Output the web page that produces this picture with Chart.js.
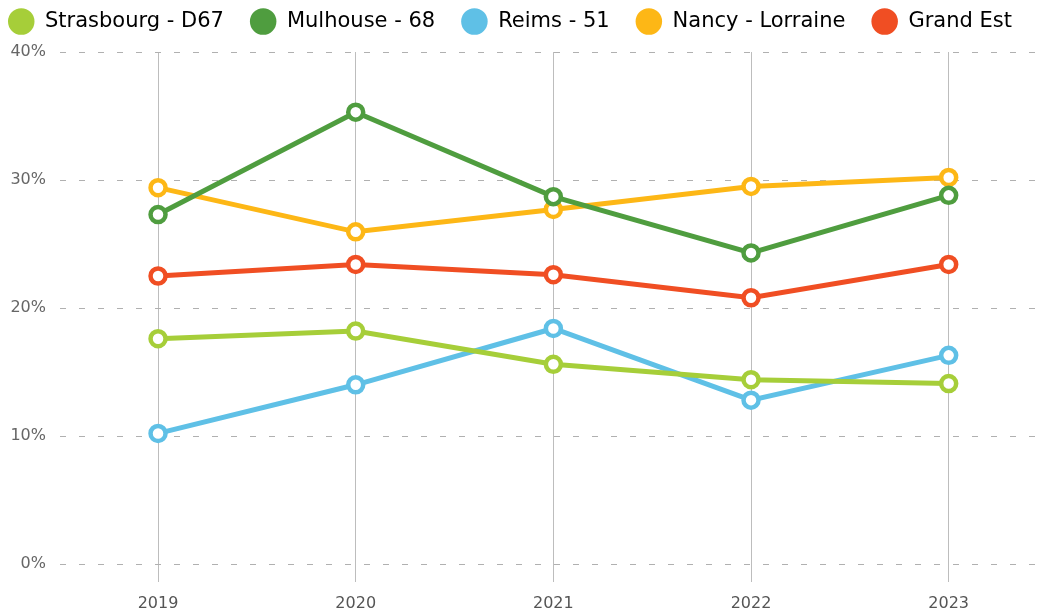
<!DOCTYPE html>
<html>
<head>
<meta charset="utf-8">
<script src="https://cdn.jsdelivr.net/npm/chart.js@4"></script>
<style>
  html, body { margin: 0; padding: 0; background: #fff; }
  #wrap { width: 1042px; height: 616px; position: relative; }
</style>
</head>
<body>
<div id="wrap"><canvas id="c"></canvas></div>
<script>
const categories = ['2019', '2020', '2021', '2022', '2023'];
const seriesNames = ['Strasbourg - D67', 'Mulhouse - 68', 'Reims - 51', 'Nancy - Lorraine', 'Grand Est'];
const strasbourg = [17.6, 18.2, 15.6, 14.4, 14.1];
const mulhouse = [27.3, 35.3, 28.7, 24.3, 28.8];
const reims = [10.2, 14.0, 18.4, 12.8, 16.3];
const nancy = [29.4, 25.95, 27.7, 29.5, 30.2];
const grandEst = [22.5, 23.4, 22.6, 20.8, 23.4];
const yTicks = [0, 10, 20, 30, 40];
const colors = ['#a6ce39', '#4f9d3f', '#5fc0e6', '#fdb716', '#f04e23'];

const allSeries = [strasbourg, mulhouse, reims, nancy, grandEst];
const FONT = '"DejaVu Sans", sans-serif';

const datasets = allSeries.map((vals, i) => ({
  label: seriesNames[i],
  data: vals.map((v, j) => ({ x: Number(categories[j]), y: v })),
  borderColor: colors[i],
  backgroundColor: colors[i],
  borderWidth: 5,
  pointRadius: 7.5,
  pointHoverRadius: 7.5,
  pointBorderWidth: 4.5,
  pointHoverBorderWidth: 4.5,
  pointBackgroundColor: '#ffffff',
  pointBorderColor: colors[i],
  tension: 0,
  clip: false
}));

const legendGap = {
  id: 'legendGap',
  beforeInit(chart) {
    const lg = chart.legend;
    if (lg) {
      const f = lg.fit;
      lg.fit = function () {
        this.maxWidth = 3000;
        f.apply(this, arguments);
        this.height = 67;
      };
      const d = lg.draw;
      lg.draw = function () {
        const r = this.right;
        this.right = 3000;
        d.apply(this, arguments);
        this.right = r;
      };
    }
  }
};

new Chart(document.getElementById('c'), {
  type: 'line',
  data: { datasets },
  plugins: [legendGap],
  options: {
    responsive: true,
    maintainAspectRatio: false,
    animation: false,
    events: [],
    layout: { autoPadding: false, padding: { top: -15, left: -18, right: 2, bottom: 0 } },
    plugins: {
      tooltip: { enabled: false },
      legend: {
        position: 'top',
        align: 'start',
        labels: {
          usePointStyle: true,
          pointStyle: 'circle',
          boxHeight: 18.8,
          pointStyleWidth: 26.5,
          padding: 26,
          color: '#222222',
          font: { family: FONT, size: 21 },
          generateLabels(chart) {
            return chart.data.datasets.map((d, i) => ({
              text: d.label,
              fillStyle: d.borderColor,
              strokeStyle: d.borderColor,
              lineWidth: 0,
              pointStyle: 'circle',
              hidden: false,
              datasetIndex: i
            }));
          }
        }
      }
    },
    scales: {
      x: {
        type: 'linear',
        min: 2018.504,
        max: 2023.462,
        afterBuildTicks(scale) { scale.ticks = categories.map(c => ({ value: Number(c) })); },
        afterFit(scale) { scale.height = 52; scale.paddingLeft = 0; scale.paddingRight = 0; },
        border: { display: false },
        grid: { color: '#bdbdbd', lineWidth: 1, drawTicks: true, tickLength: 18, tickColor: '#bdbdbd' },
        ticks: {
          padding: 12,
          color: '#555555',
          font: { family: FONT, size: 16 },
          maxRotation: 0,
          callback: (v) => String(v)
        }
      },
      y: {
        min: 0,
        max: 40,
        afterBuildTicks(scale) { scale.ticks = yTicks.map(v => ({ value: v })); },
        afterFit(scale) { scale.width = 78; },
        border: { display: false, dash: [6, 13] },
        grid: { color: '#b0b0b0', lineWidth: 1, drawTicks: false },
        ticks: {
          padding: 14,
          color: '#666666',
          font: { family: FONT, size: 16 },
          callback: (v) => v + '%'
        }
      }
    }
  }
});
</script>
</body>
</html>
